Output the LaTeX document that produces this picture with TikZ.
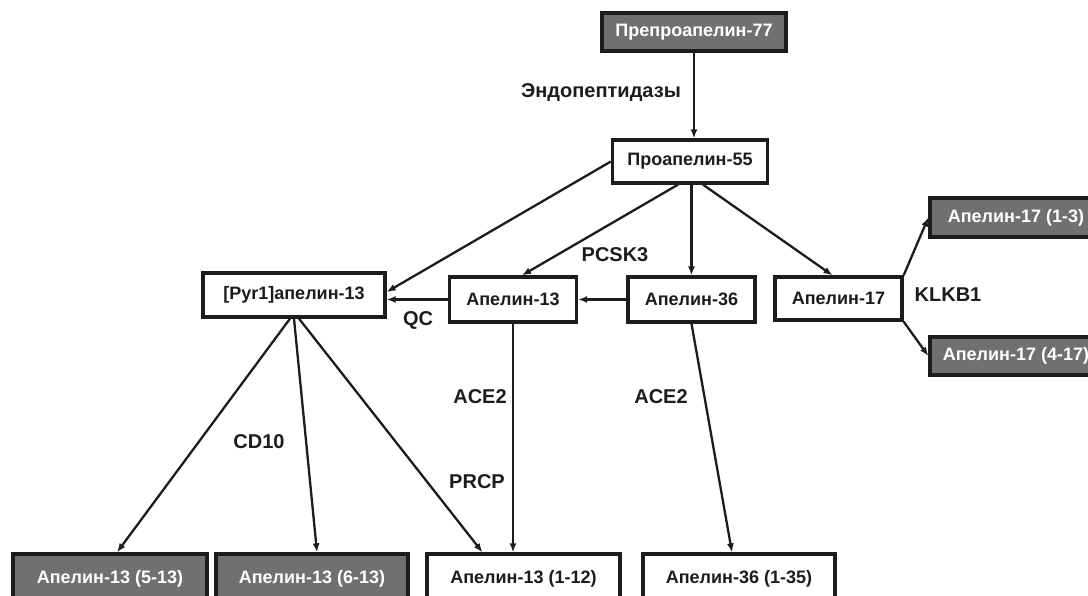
\documentclass[tikz,border=0pt]{standalone}
\usepackage{fontspec}
\setmainfont{Liberation Sans}
\usepackage{tikz}
\usetikzlibrary{arrows.meta}
\definecolor{boxgray}{RGB}{112,112,114}
\definecolor{inkblack}{RGB}{28,28,28}

\begin{document}
\begin{tikzpicture}[x=1pt,y=-1pt,
    every node/.style={font=\fontsize{18}{21}\selectfont\bfseries,text=inkblack},
    wbox/.style={draw=inkblack,line width=3.3pt,fill=white,inner sep=0pt},
    gbox/.style={wbox,fill=boxgray,text=white},
    enz/.style={font=\fontsize{20}{24}\selectfont\bfseries},
    arr/.style={draw=inkblack,line width=2.3pt,-{Latex[length=9pt,width=7pt]}}]
        \clip(0,0)rectangle(1088,596);
        \fill[white](0,0)rectangle(1088,596);

        % top of the chain
        \node[gbox,minimum width=184pt,minimum height=38pt](pre77)at(694,32){Препроапелин-77};
        \node[wbox,minimum width=155pt,minimum height=43pt](pro55)at(690,161.5){Проапелин-55};

        % middle row
        \node[wbox,minimum width=182pt,minimum height=44pt](pyr)at(294,295){[Pyr1]апелин-13};
        \node[wbox,minimum width=127pt,minimum height=45pt](a13)at(513,299.5){Апелин-13};
        \node[wbox,minimum width=127pt,minimum height=45pt](a36)at(691.5,299.5){Апелин-36};
        \node[wbox,minimum width=127pt,minimum height=43pt](a17)at(838.5,298.5){Апелин-17};
        \node[gbox,minimum width=172pt,minimum height=39pt](a17a)at(1016,217.5){Апелин-17 (1-3)};
        \node[gbox,minimum width=172pt,minimum height=38pt](a17b)at(1016,356){Апелин-17 (4-17)};

        % bottom row
        \node[gbox,minimum width=194pt,minimum height=50pt](b513)at(110,579){Апелин-13 (5-13)};
        \node[gbox,minimum width=192pt,minimum height=50pt](b613)at(312,579){Апелин-13 (6-13)};
        \node[wbox,minimum width=193pt,minimum height=50pt](b112)at(523.5,579){Апелин-13 (1-12)};
        \node[wbox,minimum width=192pt,minimum height=50pt](b135)at(739,579){Апелин-36 (1-35)};

        % enzymes
        \node[enz](endo)at(601,93){Эндопептидазы};
        \node[enz](pcsk)at(615,255){PCSK3};
        \node[enz](qc)at(418,320){QC};
        \node[enz](klkb)at(948,295){KLKB1};
        \node[enz](cd10)at(259,442){CD10};
        \node[enz](ace1)at(480,397){ACE2};
        \node[enz](ace2)at(661,397){ACE2};
        \node[enz](prcp)at(477,482){PRCP};

        % arrows
        \draw[arr](pre77.south)--(pre77.south|-pro55.north);
        \draw[arr](pro55.west)--([yshift=3pt]pyr.east);
        \draw[arr]([xshift=-12pt]pro55.south)--([xshift=9pt]a13.north);
        \draw[arr](pro55.south-|a36.north)--(a36.north);
        \draw[arr]([xshift=13pt]pro55.south)--([xshift=-6pt]a17.north);
        \draw[arr](a36.west)--(a13.east);
        \draw[arr](a13.west)--(a13.west-|pyr.east);
        \draw[arr](a17.north east)--(a17a.west);
        \draw[arr](a17.south east)--(a17b.west);
        \draw[arr]([xshift=-4pt]pyr.south)--([xshift=7pt]b513.north);
        \draw[arr](pyr.south)--([xshift=5pt]b613.north);
        \draw[arr]([xshift=5pt]pyr.south)--([xshift=-41pt]b112.north);
        \draw[arr](a13.south)--(a13.south|-b112.north);
        \draw[arr](a36.south)--([xshift=-7pt]b135.north);
    \end{tikzpicture}
\end{document}
